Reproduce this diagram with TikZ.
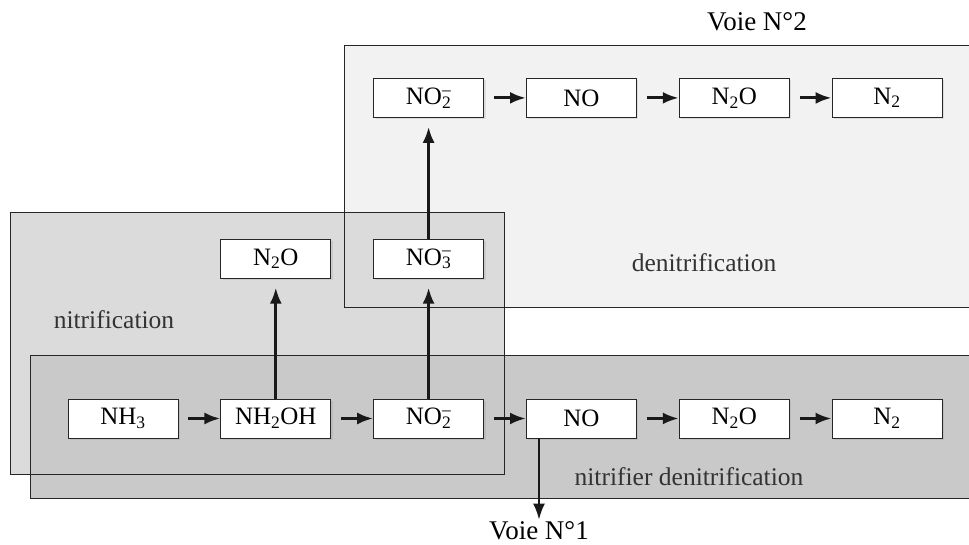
\documentclass[tikz,border=0pt]{standalone}
\usepackage{fontspec}
\setmainfont{Liberation Serif}
\usepackage{tikz}
\usetikzlibrary{arrows.meta,positioning,shadows}
\definecolor{denitgray}{gray}{0.95}
\definecolor{nitrigray}{gray}{0.86}
\definecolor{nitdenitgray}{gray}{0.79}
\newcommand{\ionsub}[2]{\rlap{\textsubscript{#1}}\textsuperscript{#2}}

\begin{document}
\begin{tikzpicture}[
  x=1pt,y=1pt,
  font=\fontsize{25}{28}\selectfont,
  node distance=42pt,
  species/.style={draw=black!85,fill=white,line width=0.8pt,minimum width=110pt,minimum height=39pt,inner sep=0pt,drop shadow={opacity=0.18,shadow xshift=2pt,shadow yshift=-2pt}},
  arrow/.style={-{Latex[length=16pt,width=12pt]},line width=3pt,black!90},
  zone/.style={draw=black!85,line width=0.8pt},
  zonelabel/.style={text=black!80,font=\fontsize{25.5}{28}\selectfont},
  voie/.style={inner sep=2pt,font=\fontsize{27}{30}\selectfont}
]
\clip (0,0) rectangle (969,544);
\fill[denitgray] (344,237) rectangle (980,499);
\fill[nitrigray] (10,70) rectangle (504,332);
\fill[nitdenitgray] (30,46) rectangle (980,189);
\draw[zone] (344,237) rectangle (980,499);
\draw[zone] (10,70) rectangle (504,332);
\draw[zone] (30,46) rectangle (980,189);
\node[species] (nh3) at (123,125.5) {NH\textsubscript{3}};
\node[species,right=of nh3] (nh2oh) {NH\textsubscript{2}OH};
\node[species,right=of nh2oh] (no2) {NO\ionsub{2}{--}};
\node[species,right=of no2] (no) {NO};
\node[species,right=of no] (n2o) {N\textsubscript{2}O};
\node[species,right=of n2o] (n2) {N\textsubscript{2}};
\node[species,above=120pt of nh2oh] (n2oside) {N\textsubscript{2}O};
\node[species,above=120pt of no2] (no3) {NO\ionsub{3}{--}};
\node[species,above=121pt of no3] (no2den) {NO\ionsub{2}{--}};
\node[species,right=of no2den] (noden) {NO};
\node[species,right=of noden] (n2oden) {N\textsubscript{2}O};
\node[species,right=of n2oden] (n2den) {N\textsubscript{2}};
\node[zonelabel] (denitlabel) at (704,281) {denitrification};
\node[zonelabel] (nitlabel) at (114,224) {nitrification};
\node[zonelabel] (nitdenitlabel) at (689,67) {nitrifier denitrification};
\node[voie] (voie2) at (757,522) {Voie N°2};
\node[voie] (voie1) at (539,13) {Voie N°1};
\draw[arrow,shorten <=10pt] (nh3) -- (nh2oh);
\draw[arrow,shorten <=10pt] (nh2oh) -- (no2);
\draw[arrow,shorten <=10pt] (no2) -- (no);
\draw[arrow,shorten <=10pt] (no) -- (n2o);
\draw[arrow,shorten <=10pt] (n2o) -- (n2);
\draw[arrow,shorten >=9pt] (nh2oh) -- (n2oside);
\draw[arrow,shorten >=9pt] (no2) -- (no3);
\draw[arrow,shorten >=9pt] (no3) -- (no2den);
\draw[arrow,shorten <=10pt] (no2den) -- (noden);
\draw[arrow,shorten <=10pt] (noden) -- (n2oden);
\draw[arrow,shorten <=10pt] (n2oden) -- (n2den);
\draw[arrow,line width=2pt] (no.south -| voie1) -- (voie1.north);
\end{tikzpicture}
\end{document}
